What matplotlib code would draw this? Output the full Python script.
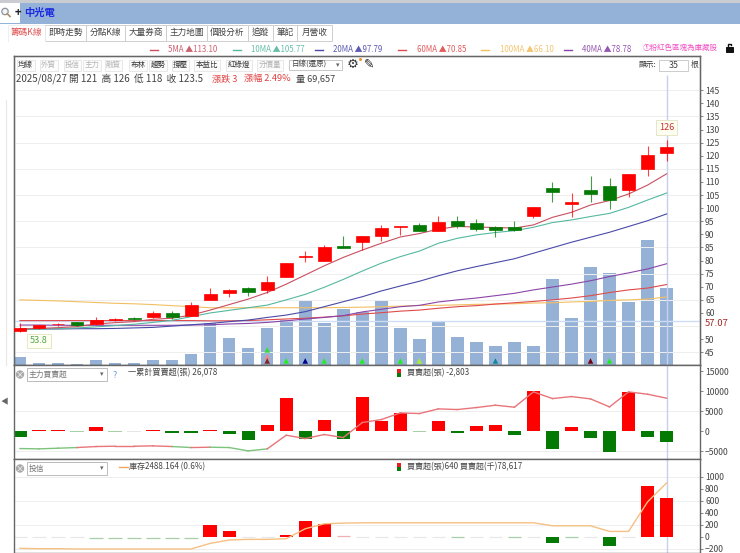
import matplotlib
matplotlib.use("Agg")
import matplotlib.pyplot as plt
from matplotlib.patches import Rectangle, Circle

plt.rcParams['font.family'] = ['Noto Sans CJK TC', 'DejaVu Sans']

W, H = 740, 553

# ---------------------------
# data
# ---------------------------
opens = [53.1, 54.2, 55.8, 56.6, 55.7, 57.3, 58.1, 58.3, 60.1, 58.9, 65.1, 67.6, 69.5, 68.8, 73.7, 81.4, 80.0, 85.4,
         87.0, 89.4, 92.8, 93.7, 91.3, 95.0, 94.2, 92.7, 92.9, 97.0, 107.6, 101.6, 106.9, 108.5, 107.0, 115.0, 121.0]
highs = [56.3, 55.6, 56.3, 56.7, 58.6, 58.1, 58.6, 60.8, 60.8, 64.1, 69.4, 69.1, 69.8, 74.0, 79.0, 83.5, 85.8, 89.4,
         89.4, 93.6, 93.3, 94.5, 96.9, 96.9, 95.8, 93.2, 95.0, 100.6, 110.1, 105.9, 112.3, 111.5, 112.9, 123.7, 126.0]
lows = [52.9, 53.8, 55.0, 55.2, 55.3, 57.0, 57.3, 58.1, 57.8, 58.9, 65.1, 66.0, 66.6, 67.8, 73.7, 79.6, 80.0, 84.7,
        84.0, 87.6, 89.8, 91.4, 91.3, 92.6, 91.3, 89.1, 91.3, 96.3, 102.2, 96.5, 102.5, 99.8, 104.4, 112.3, 118.0]
closes = [54.2, 55.4, 55.9, 55.4, 57.3, 57.8, 57.7, 59.9, 58.6, 62.9, 67.2, 68.8, 68.1, 72.0, 79.0, 81.6, 85.3, 84.9,
          89.4, 92.6, 93.3, 91.4, 94.7, 93.3, 92.2, 91.8, 91.8, 100.6, 106.1, 102.5, 105.5, 103.0, 112.9, 120.3, 123.5]
volumes = [7000, 2100, 1500, 900, 4800, 1500, 1500, 4800, 4300, 10200, 38300, 24400, 15400, 33500, 40700, 57600,
           37700, 50400, 47900, 58200, 33500, 23800, 39500, 25600, 20500, 17200, 20500, 16900, 77800, 42200, 88400,
           83500, 57000, 113100, 69657]

ma5 = [53.9, 54.1, 54.4, 54.8, 55.8, 56.3, 56.7, 57.6, 58.0, 59.2, 61.1, 63.2, 65.3, 67.8, 71.0, 74.5, 78.0, 81.2,
       84.0, 86.6, 89.0, 90.3, 92.0, 93.0, 92.8, 92.6, 92.4, 93.6, 96.5, 98.4, 101.2, 102.9, 105.4, 108.8, 113.10]
ma10 = [53.6, 53.8, 54.0, 54.3, 54.7, 55.2, 55.7, 56.4, 57.2, 58.6, 60.0, 61.0, 62.0, 63.0, 65.0, 67.1, 69.8, 72.8,
        76.0, 79.0, 81.5, 83.6, 86.6, 88.5, 89.8, 90.7, 91.4, 92.7, 94.5, 95.5, 96.8, 98.0, 100.3, 103.1, 105.77]
ma20 = [53.8, 53.9, 53.9, 54.0, 54.0, 54.1, 54.3, 54.5, 55.0, 55.5, 56.0, 56.7, 57.3, 58.3, 59.2, 60.5, 62.4, 64.3,
        66.2, 68.4, 70.3, 72.1, 74.2, 76.1, 77.7, 79.2, 80.7, 82.8, 84.9, 87.0, 88.9, 90.8, 93.0, 95.2, 97.79]
ma40 = [55.4, 55.4, 55.3, 55.3, 55.3, 55.3, 55.3, 55.3, 55.3, 55.4, 55.5, 55.8, 56.0, 56.4, 57.0, 57.7, 58.3, 59.0,
        60.4, 61.4, 62.4, 62.9, 64.2, 65.0, 65.7, 66.6, 67.5, 68.8, 69.9, 71.0, 72.3, 73.9, 75.3, 76.8, 78.78]
ma60 = [57.1, 57.1, 57.1, 57.1, 57.1, 57.1, 57.1, 57.1, 57.1, 57.1, 57.0, 57.0, 57.1, 57.4, 57.7, 58.0, 58.4, 58.9,
        59.6, 60.1, 60.7, 61.1, 61.8, 62.4, 62.8, 63.4, 63.9, 64.4, 65.0, 65.7, 66.6, 67.8, 68.8, 69.5, 70.85]
ma100 = [65.0, 64.8, 64.6, 64.3, 64.0, 63.7, 63.5, 63.2, 62.8, 62.4, 62.0, 62.0, 62.0, 62.0, 62.0, 62.0, 62.0, 62.1,
         62.2, 62.4, 62.6, 62.9, 62.9, 63.1, 63.3, 63.4, 63.5, 63.8, 63.9, 64.2, 64.4, 64.8, 65.0, 65.3, 66.10]

main_force = [-1330, 420, 420, -200, 1080, -250, -100, 400, -500, -400, 420, -750, -2080, 1500, 8330, -1920, 2830,
              -1920, 8580, 2580, 4580, -300, 2580, -450, 1330, 1500, -1000, 10000, -4330, 1170, -1580, -5160, 9830,
              -1330, -2803]
main_cum = [-4330, -4410, -4250, -4080, -3830, -3750, -3750, -3665, -3830, -4080, -4000, -4080, -4915, -4415, -1000,
            -1830, -830, -1580, 2170, 2915, 4580, 4415, 5580, 5415, 5915, 6500, 6000, 9830, 8160, 8660, 8080, 6080,
            9830, 9250, 8250]
# 1 = 빨강 구간, 0 = 초록 구간
main_cum_red = [0, 0, 0, 1, 1, 1, 1, 1, 0, 1, 0, 0, 0] + [1] * 21

trust = [0, 0, 0, 0, -15, -15, -15, -15, -15, -15, 195, 94, 0, 0, 28, 267, 205, 10, 0, 0, 0, 0, 0, -10, 0, 0, -10,
         0, -100, -10, 0, -155, 0, 850, 640]
trust_stock = [-194, -200, -200, -205, -205, -205, -205, -205, -205, -205, -111, -55, -44, -44, -33, 133, 217, 228,
               233, 233, 233, 233, 233, 233, 233, 233, 233, 233, 183, 183, 183, 89, 89, 583, 900]

# 55 눈금은 57.07 라벨에 가려져 원본에 없음
price_ticks = [45, 50] + list(range(60, 150, 5))
price_grid = list(range(45, 150, 10))
main_ticks = [-5000, 0, 5000, 10000, 15000]
trust_ticks = [-200, 0, 200, 400, 600, 800, 1000]

markers_x = [13, 13, 13, 14, 15, 16, 18, 20, 21, 25, 30, 31]
markers_y = [45.9, 43.3, 41.7, 41.7, 41.7, 41.7, 41.7, 41.7, 41.7, 41.7, 41.7, 41.7]
markers_c = ['#33dd33', '#ee8888', '#8b2222', '#22ee22', '#000088', '#22ee22', '#22ee22', '#22ee22', '#aaee33',
             '#118899', '#770011', '#22ee22']

tabs = ['籌碼K線', '即時走勢', '分點K線', '大量券商', '主力地圖', '個股分析', '追蹤', '筆記', '月營收']
tab_edges = [8, 45, 86, 125, 166, 207, 248, 273, 297, 332]
tools = ['均線', '外資', '投信', '主力', '融資', '布林', '趨勢', '撐壓', '本益比', '紅綠燈', '分價量']
tool_x = [25.7, 48.7, 72.3, 92, 113.3, 138, 158, 180.3, 206.7, 239.3, 269.7]
tool_off = ['外資', '投信', '主力', '融資', '分價量']

ma_names = ['5MA', '10MA', '20MA', '60MA', '100MA', '40MA']
ma_last = ['113.10', '105.77', '97.79', '70.85', '66.10', '78.78']
ma_colors = ['#c8505f', '#55b8a0', '#4a4aa8', '#e04a4a', '#f2bf62', '#8a45a8']
ma_dash_x = [150, 233, 315, 398, 481, 564]
ma_text_x = [168, 251, 333, 417, 500, 582]

RED = '#ff0000'
GREEN = '#047a04'
n = len(closes)
xs = list(range(n))


def px_rect(x0, y0, x1, y1):
    return [x0 / W, 1 - y1 / H, (x1 - x0) / W, (y1 - y0) / H]


fig = plt.figure(figsize=(W / 100, H / 100), dpi=100, facecolor='white')

L, R = 13.5, 699.5
XLIM = (-0.34, 35.73)


def style_axes(ax):
    ax.set_xlim(*XLIM)
    ax.set_xticks([])
    ax.yaxis.tick_right()
    ax.tick_params(axis='y', length=2, width=0.6, color='#777777', labelcolor='#444444', labelsize=6.2, pad=2)
    for s in ax.spines.values():
        s.set_color('#666666')
        s.set_linewidth(1.0)


# ---------------------------
# 가격 + 거래량
# ---------------------------
ax_vol = fig.add_axes(px_rect(L, 56, R, 365))
ax_vol.bar(xs, volumes, width=0.66, color='#95b2d6', linewidth=0)
ax_vol.set_xlim(*XLIM)
ax_vol.set_ylim(0, 309 * 904.6)
ax_vol.set_xticks([])
ax_vol.set_yticks([])

ax = ax_vol.twinx()
style_axes(ax)
ax.set_ylim(40.15, 158.05)
ax.set_yticks(price_ticks)
ax.hlines(price_grid, XLIM[0], XLIM[1], color='#eeeeee', lw=0.7, zorder=0)
ax.axhline(57.07, color='#cfdcf5', lw=1, zorder=1)
ax.vlines(34, 40.15, 150.8, color='#c6d0ee', lw=1, zorder=1)

for vals, col in [(ma100, ma_colors[4]), (ma60, ma_colors[3]), (ma40, ma_colors[5]), (ma20, ma_colors[2]),
                  (ma10, ma_colors[1]), (ma5, ma_colors[0])]:
    ax.plot(xs, vals, color=col, lw=0.8, zorder=2)

for i in xs:
    col = RED if closes[i] >= opens[i] else GREEN
    ax.vlines(i, lows[i], highs[i], color=col, lw=0.8, alpha=0.75, zorder=3)
    ax.bar(i, abs(closes[i] - opens[i]), bottom=min(opens[i], closes[i]), width=0.68, color=col,
           edgecolor=col, linewidth=0.5, zorder=4)

ax.scatter(markers_x, markers_y, marker='^', s=16, c=markers_c, linewidths=0, zorder=5)

ax.annotate('53.8', (1, lows[1]), xytext=(0, -8.3), textcoords='offset points', ha='center', va='center',
            fontsize=6.6, color='#55a555', zorder=6,
            bbox=dict(boxstyle='square,pad=0.3', fc='#fffff2', ec='#e6e6c8', lw=0.7))
ax.annotate('126', (34, highs[34]), xytext=(0, 9), textcoords='offset points', ha='center', va='center',
            fontsize=6.6, color='#cc3333', zorder=6,
            bbox=dict(boxstyle='square,pad=0.3', fc='#fffff2', ec='#e6e6c8', lw=0.7))
# 원본처럼 라벨을 기준선보다 조금 아래로
ax.annotate('57.07', (1, 57.07), xycoords=('axes fraction', 'data'), xytext=(3.5, -2.2), textcoords='offset points',
            ha='left', va='center', fontsize=6.8, color='#a52a2a', annotation_clip=False)

# ---------------------------
# 주력 매매초
# ---------------------------
ax2 = fig.add_axes(px_rect(L, 365, R, 459.3))
style_axes(ax2)
ax2.set_ylim(-7020, 16550)
ax2.set_yticks(main_ticks)
ax2.hlines([5000, -5000], XLIM[0], XLIM[1], color='#eeeeee', lw=0.7, zorder=0)
ax2.axvline(34, color='#c6d0ee', lw=1, zorder=1)
for i in xs:
    v = main_force[i]
    col = RED if v >= 0 else GREEN
    if abs(v) <= 300:
        col = '#a9cfa9' if v < -150 else '#e6e6e6'
    ax2.bar(i, v, width=0.70, color=col, linewidth=0, zorder=2)
for i in range(n - 1):
    ax2.plot(xs[i:i + 2], main_cum[i:i + 2], color='#e8757a' if main_cum_red[i] else '#7cc47c', lw=1.0, zorder=3)

# ---------------------------
# 투신
# ---------------------------
ax3 = fig.add_axes(px_rect(L, 459.3, R, 553))
style_axes(ax3)
ax3.set_ylim(-272, 1295)
ax3.set_yticks(trust_ticks)
ax3.hlines([1000, 600, 200, -200], XLIM[0], XLIM[1], color='#eeeeee', lw=0.7, zorder=0)
ax3.axvline(34, color='#c6d0ee', lw=1, zorder=1)
for i in xs:
    v = trust[i]
    if v == 0:
        ax3.hlines(0, i - 0.35, i + 0.35, color='#e8e8e8', lw=0.9, zorder=2)
    elif abs(v) <= 15:
        ax3.hlines(v, i - 0.35, i + 0.35, color='#a9cfa9' if v < 0 else '#eeb0b0', lw=0.9, zorder=2)
    else:
        ax3.bar(i, v, width=0.70, color=RED if v > 0 else GREEN, linewidth=0, zorder=2)
ax3.plot(xs, trust_stock, color='#f5c083', lw=1.0, zorder=3)

# ---------------------------
# 화면 크롬 (픽셀 좌표)
# ---------------------------
ui = fig.add_axes([0, 0, 1, 1], zorder=10)
ui.set_xlim(0, W)
ui.set_ylim(H, 0)
ui.axis('off')
ui.patch.set_alpha(0)


def box(x0, y0, x1, y1, fc='white', ec='#cccccc', lw=0.7):
    ui.add_patch(Rectangle((x0, y0), x1 - x0, y1 - y0, fc=fc, ec=ec, lw=lw))


def label(x, y, s, size=7.2, color='#444444', ha='left', **kw):
    ui.text(x, y, s, fontsize=size, color=color, ha=ha, va='center', **kw)


box(0, 0, W, 2.5, fc='#c9cdd2', ec='none', lw=0)
box(0, 2.5, W, 24, fc='#94b1d8', ec='none', lw=0)
box(0, 3, 20, 23, fc='white', ec='none', lw=0)
# 돋보기 아이콘 (글꼴에 없어서 도형으로)
ui.add_patch(Circle((5, 11.5), 3.2, fc='#f4f4f4', ec='#8a94a0', lw=0.9))
ui.plot([7.3, 10], [13.8, 16.5], color='#b09060', lw=1.2)
label(14.5, 12.5, '+', size=8, color='#222222', weight='bold')
label(24.5, 12.5, '中光電', size=7.4, color='#1c2be0', weight='bold')

for j, name in enumerate(tabs):
    x0, x1 = tab_edges[j], tab_edges[j + 1]
    if j:
        box(x0, 25, x1, 40.5, ec='#cfcfcf')
    label((x0 + x1) / 2, 32.5, name, size=6.2, color='#e05050' if j == 0 else '#444444', ha='center')
ui.plot([8, 8, 45, 45], [40.5, 25, 25, 40.5], color='#ececec', lw=0.6)

for name, last, col, dx, tx in zip(ma_names, ma_last, ma_colors, ma_dash_x, ma_text_x):
    ui.plot([dx, dx + 8], [50, 50], color=col, lw=1)
    ui.text(tx, 50, f'{name} ▲{last}', fontsize=5.7, color=col, ha='left', va='center', alpha=0.9)
label(642.5, 47.5, '①粉紅色區塊為庫藏股', size=5.4, color='#f050c0')
box(726, 47, 733, 52, fc='#111111', ec='#111111')
ui.plot([727.5, 727.5, 731, 731], [47, 43.5, 43.5, 45], color='#111111', lw=1)

for name, x in zip(tools, tool_x):
    off = name in tool_off
    w = 8.8 if len(name) == 2 else 13
    box(x - w, 60, x + w, 70.5, ec='#e8e8e8', fc='#fcfcfc')
    label(x, 65, name, size=5.4, color='#b5b5b5' if off else '#333333', ha='center')
box(289, 60, 342, 70, ec='#c8c8c8')
label(292, 65, '日線(還原)', size=5.4)
label(338, 65, '▾', size=5, color='#666666', ha='center')
ui.text(353, 64.5, '⚙', fontsize=9.5, color='#333333', ha='center', va='center', family=['DejaVu Sans'])
ui.add_patch(Circle((360.5, 59.5), 1.5, fc='#f0902a', ec='none'))
ui.text(369.5, 64.5, '✎', fontsize=9, color='#222222', ha='center', va='center', family=['DejaVu Sans'])

label(639, 65, '顯示:', size=5.6, color='#333333')
box(659, 59.5, 688, 70.5, ec='#cccccc')
label(673.5, 65, '35', size=6.4, ha='center')
label(690.5, 65, '根', size=5.6, color='#333333')

label(16, 79, '2025/08/27 開 121  高 126  低 118  收 123.5', size=7.0)
label(212, 79, '漲跌 3', size=6.6, color='#e04040')
label(244, 79, '漲幅 2.49%', size=6.6, color='#e04040')
label(296, 79, '量 69,657', size=6.6)


def pane_head(y, name):
    ui.add_patch(Circle((20, y), 4.2, fc='#aaaaaa', ec='none'))
    ui.text(20, y, '×', fontsize=6, color='white', ha='center', va='center')
    box(26.5, y - 6.5, 106.5, y + 6.5, ec='#bbbbbb')
    label(29, y, name, size=5.6, color='#777777')
    label(102, y, '▾', size=5, color='#666666', ha='center')


pane_head(374.5, '主力買賣超')
label(115, 375, '?', size=6.5, color='#6aa0e0', ha='center')
label(128, 372.5, '一累計買賣超(張) 26,078', size=5.9)
pane_head(468.5, '投信')
ui.plot([118.5, 128], [467, 467], color='#f0a860', lw=1)
label(129, 467, '庫存2488.164 (0.6%)', size=5.8)

for y, txt in [(372.5, '買賣超(張) -2,803'), (467, '買賣超(張)640 買賣超(千)78,617')]:
    box(396.5, y - 4, 400.5, y, fc='#e22020', ec='none', lw=0)
    box(396.5, y, 400.5, y + 4, fc='#0a7a0a', ec='none', lw=0)
    label(407, y, txt, size=5.8)

ui.plot([6, 6], [100, 365], color='#e8e8e8', lw=0.8)
label(1, 402, '◀', size=5.5, color='#666666')

fig.savefig('out.png', dpi=100)
